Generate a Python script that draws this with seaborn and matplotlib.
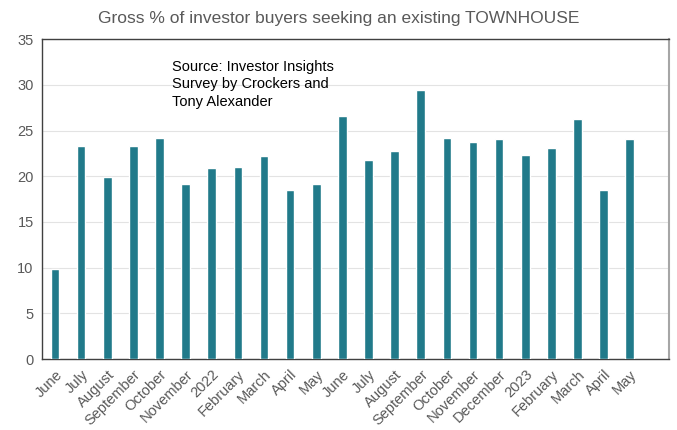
import numpy as np
import pandas as pd
import matplotlib
matplotlib.use("Agg")
import matplotlib.pyplot as plt
import seaborn as sns

# month labels as shown on the axis (Jun 2021 .. May 2023)
labels = ["June", "July", "August", "September", "October", "November", "2022",
          "February", "March", "April", "May", "June", "July", "August",
          "September", "October", "November", "December", "2023", "February",
          "March", "April", "May"]
pct_townhouse = [9.8, 23.3, 19.9, 23.3, 24.2, 19.1, 20.9, 21.0, 22.2, 18.5, 19.1,
                 26.6, 21.8, 22.8, 29.4, 24.2, 23.7, 24.1, 22.3, 23.1, 26.3, 18.5, 24.1]

title = "Gross % of investor buyers seeking an existing TOWNHOUSE"
source_note = "Source: Investor Insights\nSurvey by Crockers and\nTony Alexander"

df = pd.DataFrame({"idx": np.arange(len(labels)), "pct": pct_townhouse})

sns.set_style("white")
plt.rcParams["font.family"] = ["Liberation Sans", "DejaVu Sans"]
txt = "#595959"

fig = plt.figure(figsize=(6.77, 4.30), dpi=100)
ax = fig.add_axes([0.062, 0.165, 0.926, 0.744])

sns.barplot(data=df, x="idx", y="pct", color="#217a8a", saturation=1,
            width=0.33, ax=ax, zorder=3)

ax.set_xlim(-0.5, len(labels) + 0.5)
ax.set_ylim(0, 35)
ax.set_yticks(range(0, 36, 5))
ax.set_xticks(np.arange(len(labels)))
ax.set_xticklabels(labels, rotation=45, ha="right", rotation_mode="anchor")
ax.tick_params(axis="both", length=0, labelsize=10.5, colors=txt, pad=6)
ax.grid(axis="y", color="#e3e3e3", linewidth=0.8, zorder=0)
ax.set_xlabel("")
ax.set_ylabel("")

for side in ["left", "bottom", "top"]:
    ax.spines[side].set_color("#404040")
    ax.spines[side].set_linewidth(1.0)
ax.spines["right"].set_color("#a6a6a6")
ax.spines["right"].set_linewidth(1.5)

fig.text(0.5, 0.975, title, ha="center", va="top", fontsize=12.5, color=txt)
ax.text(0.207, 0.935, source_note, transform=ax.transAxes, ha="left", va="top",
        fontsize=10.5, color="black", linespacing=1.3)

plt.savefig("out.png", dpi=100)
